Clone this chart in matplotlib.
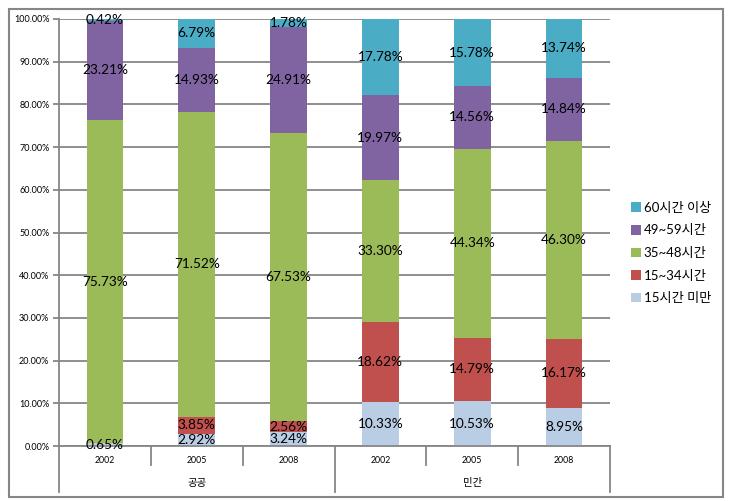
import matplotlib as mpl
import matplotlib.pyplot as plt
from matplotlib.patches import Rectangle
import numpy as np

mpl.rcParams['font.family'] = ['Lato', 'Noto Sans CJK KR', 'DejaVu Sans']

# data, bottom to top of each bar (percent)
groups = ['공공', '민간']
years = ['2002', '2005', '2008']
series = ['15시간 미만', '15~34시간', '35~48시간', '49~59시간', '60시간 이상']
under15 = [0.65, 2.92, 3.24, 10.33, 10.53, 8.95]
h15_34 = [0.0, 3.85, 2.56, 18.62, 14.79, 16.17]
h35_48 = [75.73, 71.52, 67.53, 33.30, 44.34, 46.30]
h49_59 = [23.21, 14.93, 24.91, 19.97, 14.56, 14.84]
over60 = [0.42, 6.79, 1.78, 17.78, 15.78, 13.74]
colors = ['#B9CDE5', '#C0504D', '#9BBB59', '#8064A2', '#4BACC6']

values = [under15, h15_34, h35_48, h49_59, over60]
grid_c = '#868686'

fig = plt.figure(figsize=(7.34, 5.01), dpi=100)
ax = fig.add_axes([59/734, 1-446/501, (610-59)/734, (446-19)/501])

x = np.arange(len(under15))
bottom = np.zeros(len(x))
handles = []
for vals, name, c in zip(values, series, colors):
    vals = np.array(vals)
    b = ax.bar(x, vals/100, 0.4, bottom=bottom/100, color=c, label=name, zorder=2)
    handles.append(b)
    for xi, v, bt in zip(x, vals, bottom):
        if v > 0:
            ax.text(xi, (bt + v/2)/100, f'{v:.2f}%', ha='center', va='center',
                    fontsize=9.8, color='black', zorder=4)
    bottom += vals

ax.set_xlim(-0.5, 5.5)
ax.set_ylim(0, 1)
ax.set_yticks(np.arange(0, 1.01, 0.1))
ax.set_yticklabels([f'{v*100:.2f}%' for v in np.arange(0, 1.01, 0.1)], fontsize=6.5)
ax.set_xticks([])
ax.yaxis.grid(True, color=grid_c, lw=1.3, zorder=0)
ax.set_axisbelow(True)
ax.tick_params(axis='y', length=4, color=grid_c, width=1.3, pad=3)
for s in ax.spines.values():
    s.set_visible(False)

# category axis
tr = ax.get_xaxis_transform()
ax.plot([-0.5, 5.5], [0, 0], color=grid_c, lw=1.3, transform=tr, clip_on=False, zorder=3)
for xs in [0.5, 1.5, 3.5, 4.5]:
    ax.plot([xs, xs], [0, -0.045], color=grid_c, lw=1.3, transform=tr, clip_on=False)
for xs in [-0.5, 2.5, 5.5]:
    ax.plot([xs, xs], [1 if xs == -0.5 else 0, -0.108], color=grid_c, lw=1.3,
            transform=tr, clip_on=False)
for i in range(len(x)):
    ax.text(i, -0.033, years[i % 3], ha='center', va='center', fontsize=6.3, transform=tr)
for g, gx in zip(groups, [1, 4]):
    ax.text(gx, -0.087, g, ha='center', va='center', fontsize=7.5, transform=tr)

leg = fig.legend(handles[::-1], series[::-1], loc='center left',
                 bbox_to_anchor=(626/734, 1-253/501), frameon=False, fontsize=9.5,
                 handlelength=0.75, handleheight=0.75, handletextpad=0.2,
                 labelspacing=0.8, borderaxespad=0)

fig.patches.append(Rectangle((9/734, 1-497/501), 714/734, 488/501, transform=fig.transFigure,
                             fill=False, edgecolor=grid_c, lw=1.5))

fig.savefig('out.png', dpi=100)
